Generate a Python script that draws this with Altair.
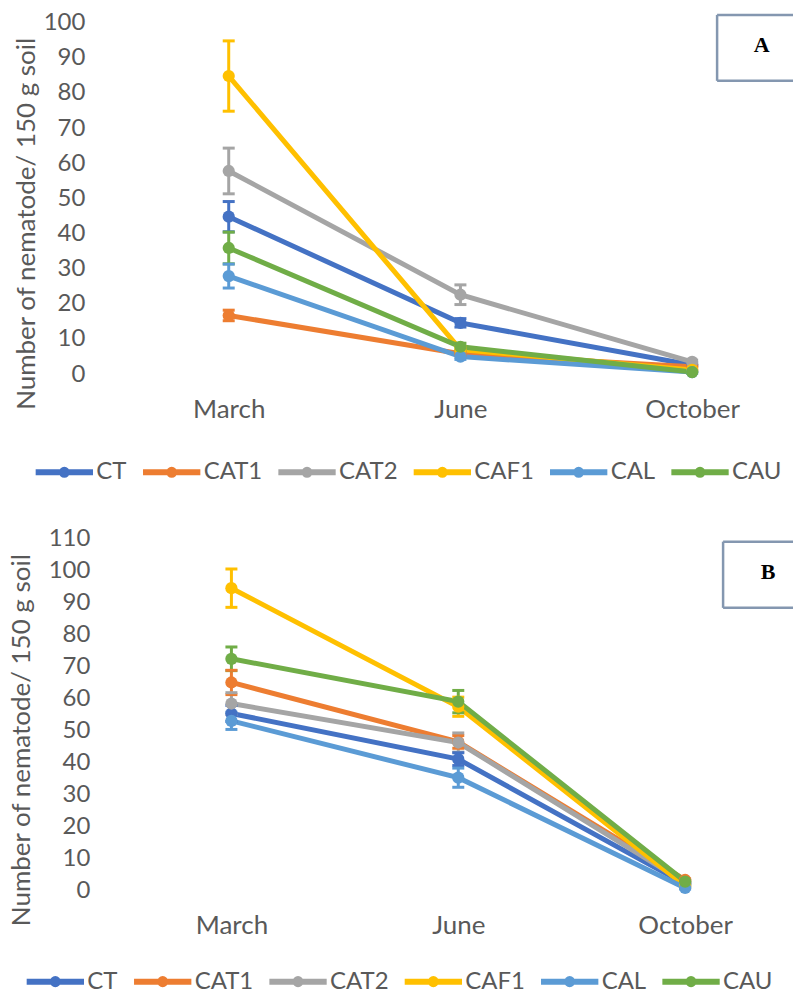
import altair as alt
import pandas as pd

months = ["March", "June", "October"]
series = ["CT", "CAT1", "CAT2", "CAF1", "CAL", "CAU"]
colors = ["#4472C4", "#ED7D31", "#A5A5A5", "#FFC000", "#5B9BD5", "#70AD47"]

# Panel A means (March, June, October)
a_ct = [44.8, 14.6, 2.6]
a_cat1 = [16.7, 5.8, 2.1]
a_cat2 = [57.8, 22.6, 3.5]
a_caf1 = [84.8, 7.0, 1.2]
a_cal = [27.9, 5.0, 0.6]
a_cau = [35.9, 7.8, 0.6]
# Panel A standard errors
a_ct_err = [4.3, 1.2, 0.3]
a_cat1_err = [1.5, 0.5, 0.3]
a_cat2_err = [6.5, 2.8, 0.5]
a_caf1_err = [10.0, 0.8, 0.3]
a_cal_err = [3.4, 0.8, 0.2]
a_cau_err = [4.5, 1.0, 0.3]

# Panel B means
b_ct = [55.4, 41.1, 2.0]
b_cat1 = [65.1, 46.5, 3.3]
b_cat2 = [58.5, 46.3, 2.5]
b_caf1 = [94.6, 57.5, 1.4]
b_cal = [53.1, 35.3, 0.8]
b_cau = [72.5, 59.1, 2.8]
# Panel B standard errors
b_ct_err = [2.5, 2.0, 0.3]
b_cat1_err = [3.8, 2.0, 0.3]
b_cat2_err = [3.4, 3.0, 0.3]
b_caf1_err = [6.0, 3.0, 0.3]
b_cal_err = [2.7, 3.0, 0.3]
b_cau_err = [3.7, 3.5, 0.3]

panel_labels = ["A", "B"]
y_title = "Number of nematode/ 150 g soil"

TEXT = "#595959"
FONT = "Lato"


def make_df(means, errs):
    rows = []
    for s, m, e in zip(series, means, errs):
        for i, (mo, v, er) in enumerate(zip(months, m, e)):
            rows.append({"series": s, "month": mo, "mi": i, "value": v,
                         "lo": v - er, "hi": v + er})
    return pd.DataFrame(rows)


df_a = make_df([a_ct, a_cat1, a_cat2, a_caf1, a_cal, a_cau],
               [a_ct_err, a_cat1_err, a_cat2_err, a_caf1_err, a_cal_err, a_cau_err])
df_b = make_df([b_ct, b_cat1, b_cat2, b_caf1, b_cal, b_cau],
               [b_ct_err, b_cat1_err, b_cat2_err, b_caf1_err, b_cal_err, b_cau_err])

# legend symbol: line with a dot in the middle (unit = 7px)
R = 0.36
LEG_SYMBOL = (f"M-4.1,0L4.1,0M{R},0A{R},{R},0,1,1,-{R},0A{R},{R},0,1,1,{R},0Z")

W, H = 695, 352
MONTH_EXPR = "['" + "','".join(months) + "'][datum.value]"


def panel(df, label, ymax, first_px, step_px, lab_pad, title_pad, leg_x, leg_y, box):
    x_dom = [-first_px / step_px, (W - first_px) / step_px]
    xenc = alt.X("mi:Q",
                 scale=alt.Scale(domain=x_dom, nice=False, zero=False),
                 axis=alt.Axis(title=None, domain=False, ticks=False, grid=False,
                               values=list(range(len(months))), labelExpr=MONTH_EXPR,
                               labelFontSize=26, labelColor=TEXT, labelFont=FONT,
                               labelPadding=22, labelFlush=False))
    yaxis = alt.Axis(values=list(range(0, ymax + 1, 10)), grid=False, domain=False,
                     ticks=False, title=y_title, titleFontSize=26,
                     titleFontWeight="normal", titleColor=TEXT, titleFont=FONT,
                     titlePadding=title_pad, labelPadding=lab_pad, titleY=201,
                     labelFontSize=24, labelColor=TEXT, labelFont=FONT)
    yscale = alt.Scale(domain=[0, ymax], nice=False, zero=True)
    color = alt.Color("series:N", sort=series,
                      scale=alt.Scale(domain=series, range=colors),
                      legend=alt.Legend(orient="none", legendX=leg_x, legendY=leg_y,
                                        direction="horizontal", title=None,
                                        symbolType=LEG_SYMBOL, symbolSize=196,
                                        symbolStrokeWidth=6, labelFontSize=24,
                                        labelColor=TEXT, labelFont=FONT,
                                        columnPadding=3.5, labelOffset=20,
                                        symbolOpacity=1))
    base = alt.Chart(df)
    lines = base.mark_line(strokeWidth=5).encode(
        x=xenc, y=alt.Y("value:Q", scale=yscale, axis=yaxis), color=color)
    rules = base.mark_rule(strokeWidth=3).encode(
        x=xenc, y=alt.Y("lo:Q", scale=yscale, axis=yaxis), y2="hi:Q", color=color)
    tick_lo = base.mark_tick(size=12, thickness=3, opacity=1, orient="horizontal").encode(
        x=xenc, y=alt.Y("lo:Q", scale=yscale, axis=yaxis), color=color)
    tick_hi = base.mark_tick(size=12, thickness=3, opacity=1, orient="horizontal").encode(
        x=xenc, y=alt.Y("hi:Q", scale=yscale, axis=yaxis), color=color)
    points = base.mark_point(filled=True, size=150, opacity=1).encode(
        x=xenc, y=alt.Y("value:Q", scale=yscale, axis=yaxis), color=color)

    bx0, bx1, by0, by1, tx, ty = box
    bdf = alt.Chart(pd.DataFrame({"label": [label]}))
    bstyle = dict(color="#8497B0", strokeWidth=2.5)
    top = bdf.mark_rule(**bstyle).encode(x=alt.value(bx0), x2=alt.value(bx1),
                                         y=alt.value(by0))
    bot = bdf.mark_rule(**bstyle).encode(x=alt.value(bx0), x2=alt.value(bx1),
                                         y=alt.value(by1))
    left = bdf.mark_rule(**bstyle).encode(x=alt.value(bx0), y=alt.value(by0),
                                          y2=alt.value(by1))
    txt = bdf.mark_text(font="Liberation Serif", fontWeight="bold", fontSize=22,
                        color="#000000", align="center", baseline="middle").encode(
        x=alt.value(tx), y=alt.value(ty), text="label:N")

    return alt.layer(lines, rules, tick_lo, tick_hi, points, top, bot, left, txt).properties(
        width=W, height=H)


pa = panel(df_a, panel_labels[0], 100, 129, 232, 15, 4, -47.6, 438,
           (618, 694, -7.7, 58.3, 662.7, 22.3))
pb = panel(df_b, panel_labels[1], 110, 131.7, 227.15, 10, 14, -56.6, 431,
           (624, 694, 2.7, 69, 669, 33.4))

chart = alt.vconcat(pa, pb, spacing=165, bounds="flush").resolve_scale(
    color="independent", y="independent", x="independent"
).properties(
    padding={"top": 2, "left": 0, "right": 0, "bottom": 0}
).configure(font=FONT).configure_view(stroke=None)

chart.save("out.html", embed_options={"renderer": "svg", "actions": False})
